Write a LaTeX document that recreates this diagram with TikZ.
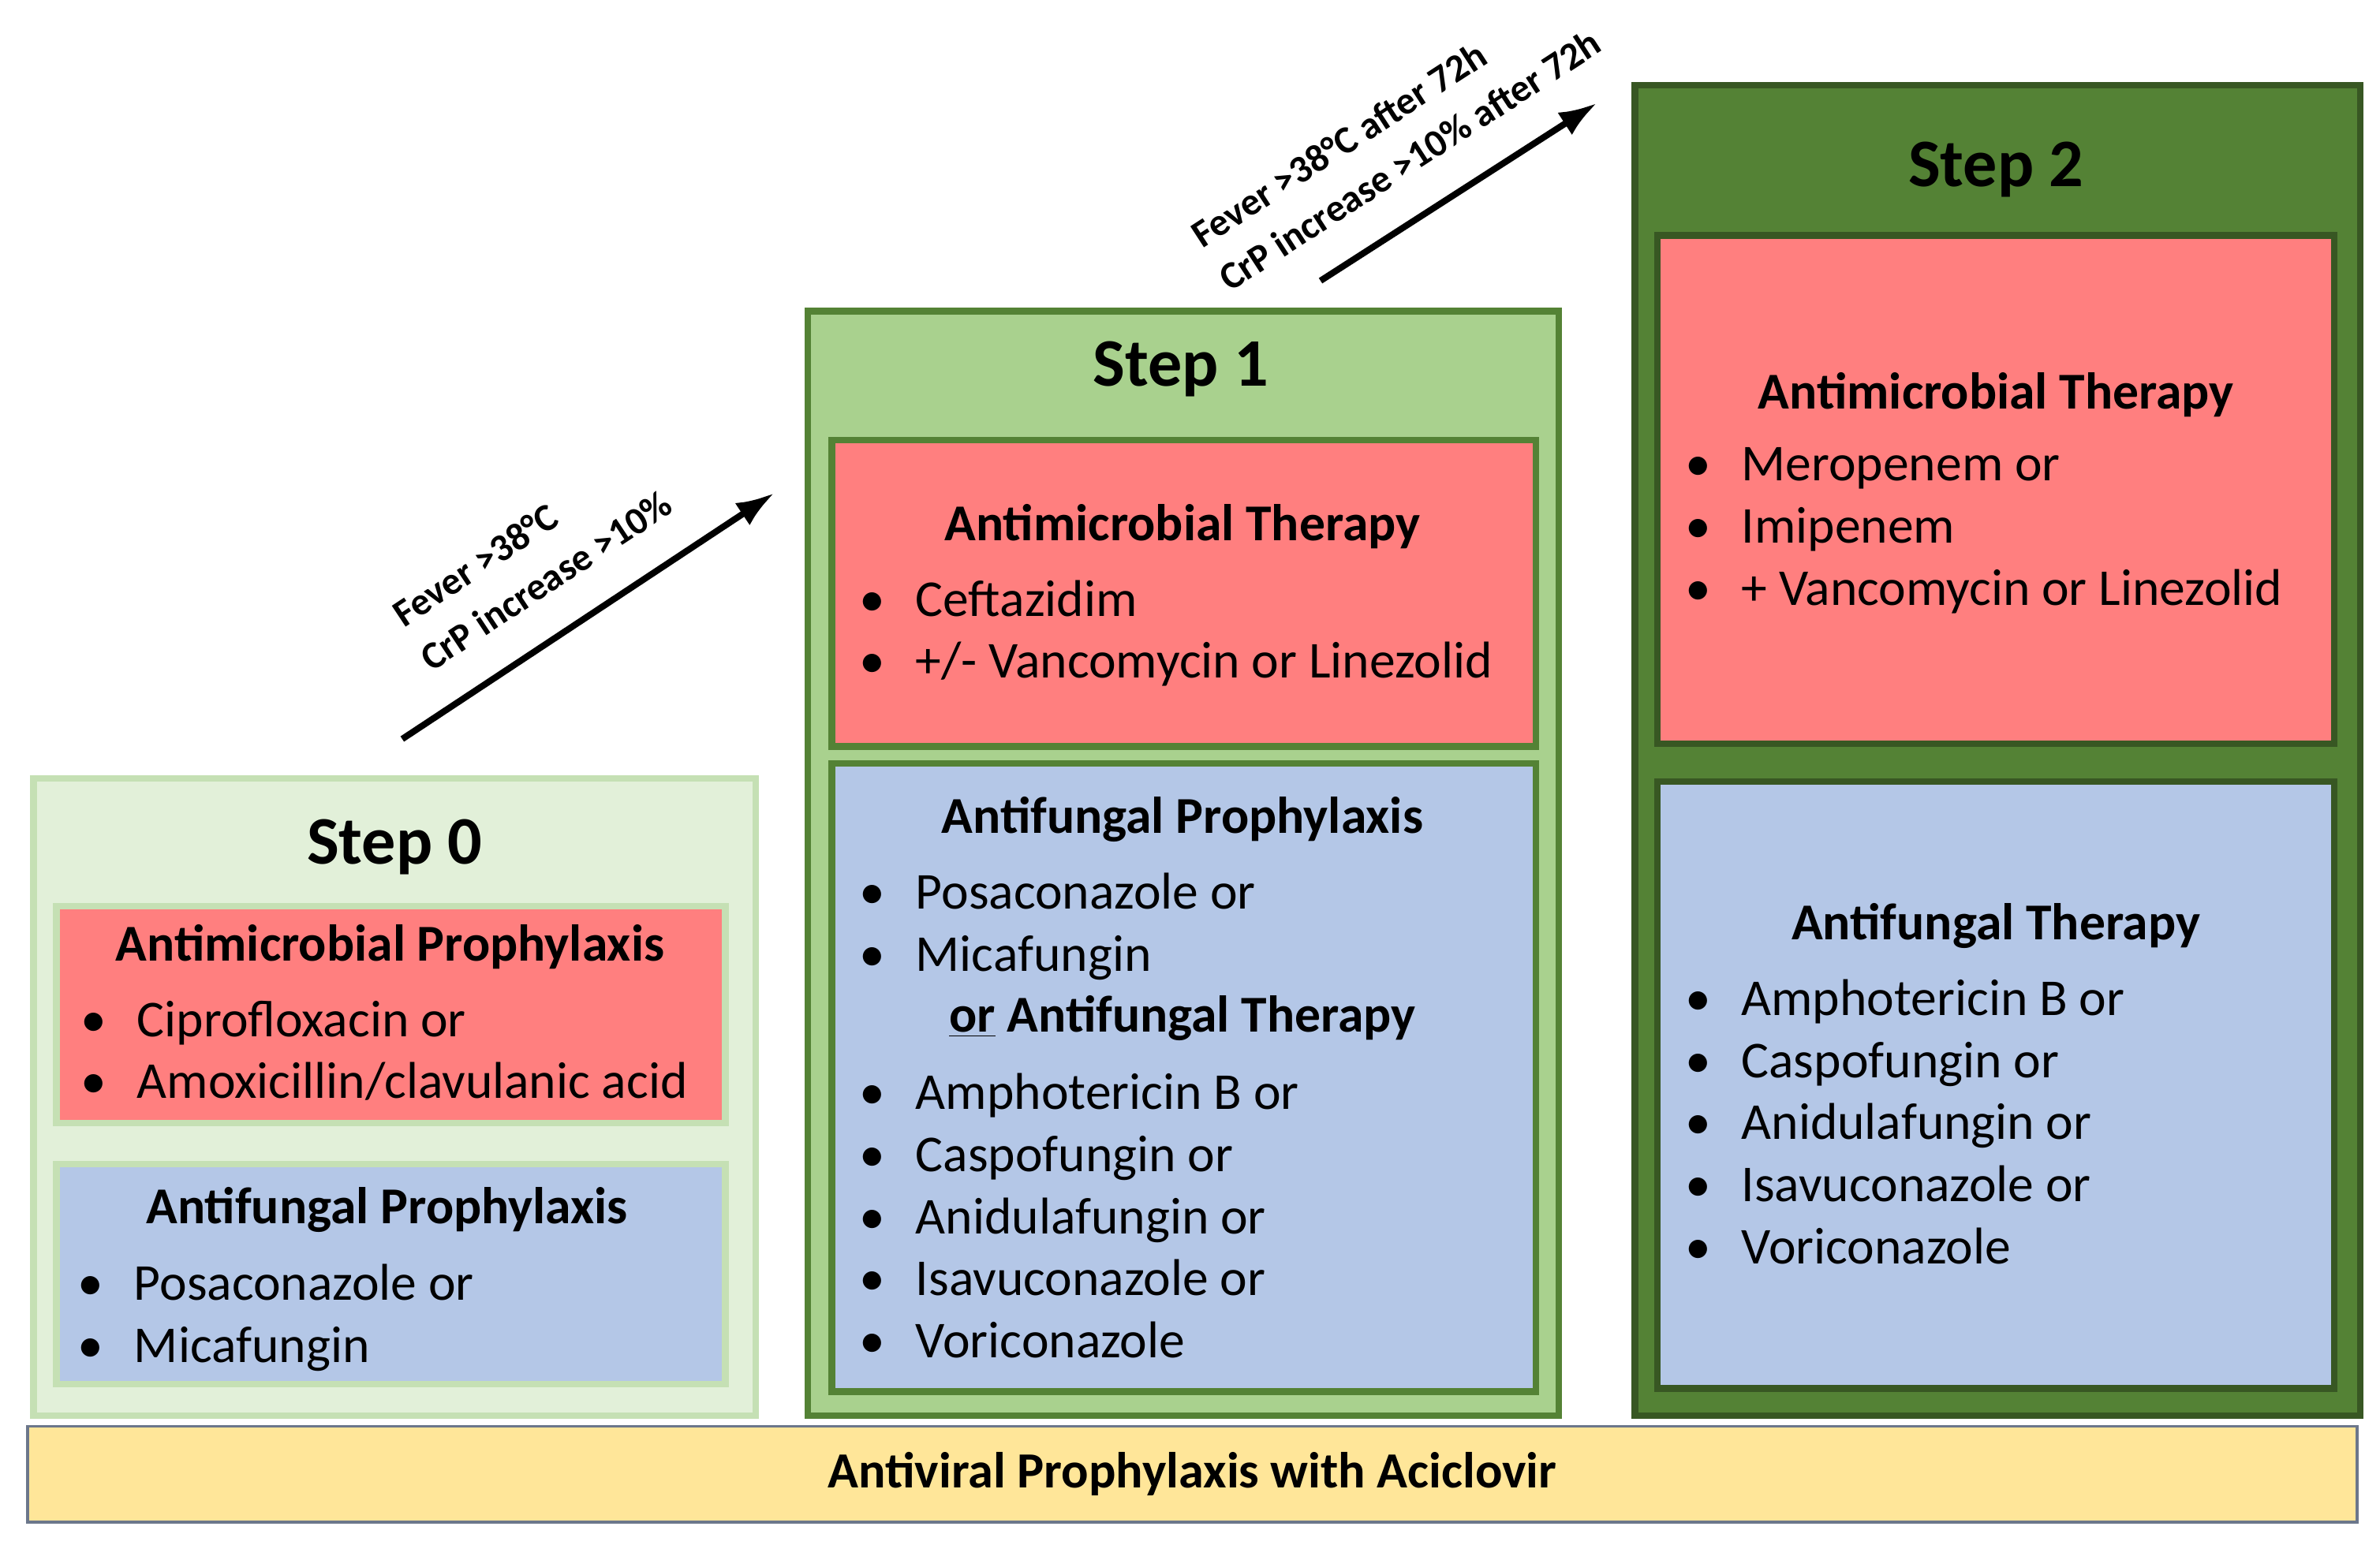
\documentclass[tikz,border=0pt]{standalone}
\usepackage{fontspec}
\setmainfont{Carlito}
\usetikzlibrary{arrows.meta}
\definecolor{redbox}{HTML}{FF7F7F}
\definecolor{bluebox}{HTML}{B4C7E7}
\definecolor{palegreen}{HTML}{E2F0D9}
\definecolor{paleline}{HTML}{C5E0B4}
\definecolor{midgreen}{HTML}{A9D18E}
\definecolor{midline}{HTML}{548235}
\definecolor{darkgreen}{HTML}{548235}
\definecolor{darkline}{HTML}{385723}
\definecolor{barfill}{HTML}{FFE699}
\newcommand{\itm}[1]{\makebox[0.74cm][l]{\textbullet}#1}
\tikzset{
  box/.style={draw,line width=2.5pt,inner sep=0pt,outer sep=0pt},
  head/.style={font=\fontsize{19.4}{23.3}\selectfont\bfseries},
  title/.style={font=\fontsize{25.5}{30}\selectfont\bfseries},
  list/.style={anchor=base west,inner sep=0pt,font=\fontsize{19.4}{23.3}\selectfont},
  cond/.style={anchor=base west,inner sep=0pt,font=\fontsize{14.5}{17}\selectfont\bfseries},
  escal/.style={line width=2.4pt,-{Latex[length=5mm,width=3.5mm]}}
}
\begin{document}
\begin{tikzpicture}[x=0.02cm,y=-0.02cm]
  \useasboundingbox (0,0) rectangle (1568,1018);
  % step 0
  \node[box,draw=paleline,fill=palegreen,minimum width=9.52cm,minimum height=8.4cm] (s0) at (260,723) {};
  \node[box,draw=paleline,fill=redbox,minimum width=8.82cm,minimum height=2.86cm] (s0red) at (257.5,668.5) {};
  \node[box,draw=paleline,fill=bluebox,minimum width=8.82cm,minimum height=2.9cm] (s0blue) at (257.5,839.5) {};
  \node[title] (t0) at (260,558) {Step 0};
  \node[head] (h0a) at (257,624) {Antimicrobial Prophylaxis};
  \node[list] (l0a) at (53,683) {\begin{tabular}[t]{@{}l@{}}\itm{Ciprofloxacin or}\\ \itm{Amoxicillin/clavulanic acid}\end{tabular}};
  \node[head] (h0b) at (255,797) {Antifungal Prophylaxis};
  \node[list] (l0b) at (51,857) {\begin{tabular}[t]{@{}l@{}}\itm{Posaconazole or}\\ \itm{Micafungin}\end{tabular}};
  % step 1
  \node[box,draw=midline,fill=midgreen,minimum width=9.9cm,minimum height=14.56cm] (s1) at (779.5,569) {};
  \node[box,draw=midline,fill=redbox,minimum width=9.28cm,minimum height=4.04cm] (s1red) at (780,391) {};
  \node[box,draw=midline,fill=bluebox,minimum width=9.28cm,minimum height=8.28cm] (s1blue) at (780,710) {};
  \node[title] (t1) at (778,243) {Step 1};
  \node[head] (h1a) at (779,347) {Antimicrobial Therapy};
  \node[list] (l1a) at (566,406) {\begin{tabular}[t]{@{}l@{}}\itm{Ceftazidim}\\ \itm{+/- Vancomycin or Linezolid}\end{tabular}};
  \node[head] (h1b) at (779,540) {Antifungal Prophylaxis};
  \node[list] (l1b) at (566,599) {\begin{tabular}[t]{@{}l@{}}\itm{Posaconazole or}\\ \itm{Micafungin}\end{tabular}};
  \node[list,font=\fontsize{19.4}{23.3}\selectfont\bfseries] (o1) at (625,680) {\underline{or} Antifungal Therapy};
  \node[list] (l1c) at (566,731) {\begin{tabular}[t]{@{}l@{}}\itm{Amphotericin B or}\\ \itm{Caspofungin or}\\ \itm{Anidulafungin or}\\ \itm{Isavuconazole or}\\ \itm{Voriconazole}\end{tabular}};
  % step 2
  \node[box,draw=darkline,fill=darkgreen,minimum width=9.56cm,minimum height=17.54cm] (s2) at (1316,494.5) {};
  \node[box,draw=darkline,fill=redbox,minimum width=8.92cm,minimum height=6.7cm] (s2red) at (1315,322.5) {};
  \node[box,draw=darkline,fill=bluebox,minimum width=8.92cm,minimum height=8cm] (s2blue) at (1315,715) {};
  \node[title] (t2) at (1315,112) {Step 2};
  \node[head] (h2a) at (1315,260) {Antimicrobial Therapy};
  \node[list] (l2a) at (1110,317) {\begin{tabular}[t]{@{}l@{}}\itm{Meropenem or}\\ \itm{Imipenem}\\ \itm{+ Vancomycin or Linezolid}\end{tabular}};
  \node[head] (h2b) at (1315,610) {Antifungal Therapy};
  \node[list] (l2b) at (1110,669) {\begin{tabular}[t]{@{}l@{}}\itm{Amphotericin B or}\\ \itm{Caspofungin or}\\ \itm{Anidulafungin or}\\ \itm{Isavuconazole or}\\ \itm{Voriconazole}\end{tabular}};
  % antiviral bar
  \node[draw=bluebox!60!black,line width=1pt,fill=barfill,minimum width=30.7cm,minimum height=1.26cm,font=\fontsize{19}{22}\selectfont\bfseries] (bar) at (785.5,971.5) {Antiviral Prophylaxis with Aciclovir};
  % escalation arrows
  \coordinate (a0) at (265,487);
  \coordinate (a1) at (510,325);
  \coordinate (b0) at (870,185);
  \coordinate (b1) at (1052,68);
  \draw[escal] (a0) -- (a1);
  \draw[escal] (b0) -- (b1);
  \node[cond,rotate=33.5] (c0a) at (266,414) {Fever >38°C};
  \node[cond,rotate=33.5] (c0b) at (284,443) {CrP increase >10\%};
  \node[cond,rotate=33] (c1a) at (792,164) {Fever >38°C after 72h};
  \node[cond,rotate=33] (c1b) at (810,193) {CrP increase >10\% after 72h};
\end{tikzpicture}
\end{document}
